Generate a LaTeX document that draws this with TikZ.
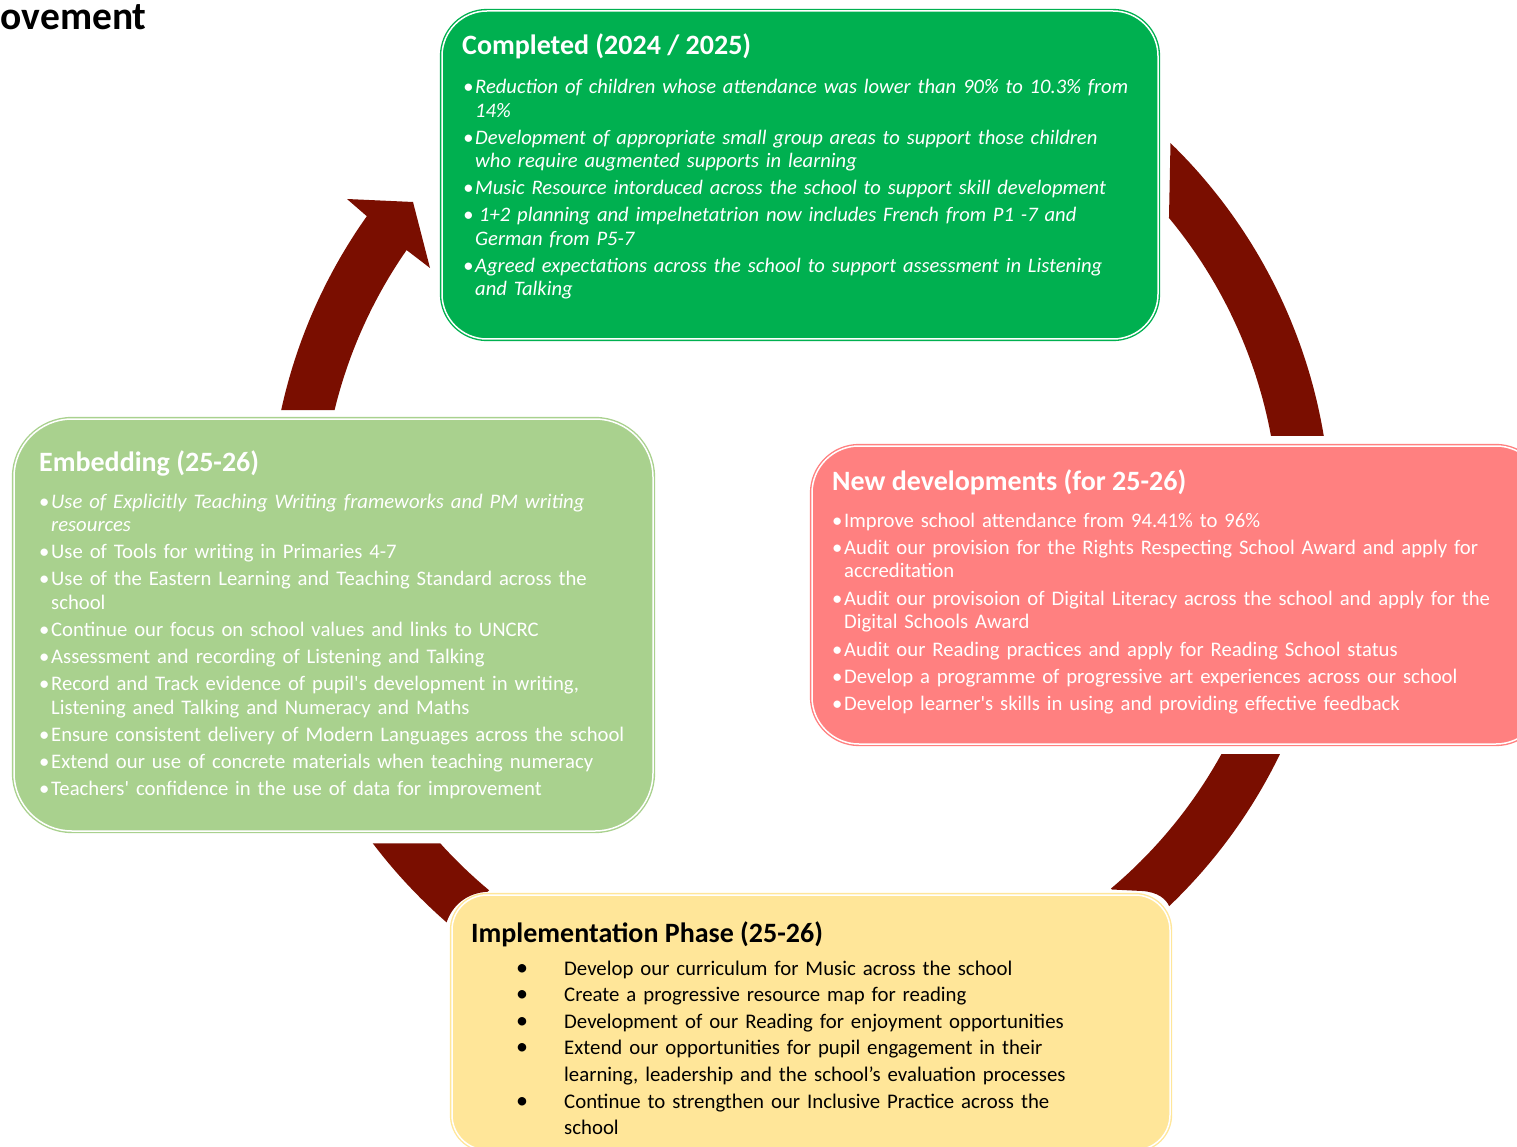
\documentclass[tikz,border=0pt]{standalone}
\usepackage{fontspec}
\setmainfont{Carlito}[Ligatures=TeXOff]
\definecolor{cgreen}{HTML}{00B050}
\definecolor{cpink}{HTML}{FF8080}
\definecolor{clgreen}{HTML}{A9D18E}
\definecolor{cyellow}{HTML}{FFE699}
\definecolor{carrow}{RGB}{122,14,0}
\newcommand\bu{\makebox[12pt][l]{•}}
\newcommand\ind{\hspace*{12pt}}
\newcommand\ybu{\makebox[48pt][l]{\fontsize{24}{24}\selectfont •}}
\newcommand\yind{\hspace*{48pt}}
\begin{document}
\begin{tikzpicture}[x=1pt,y=-1pt,
  box/.style={draw=#1, fill=#1, double=white, double distance=1.5pt, line width=1.4pt, inner sep=0pt},
  ttl/.style={anchor=base west, inner sep=0pt, font=\fontsize{28}{32}\selectfont\bfseries},
  body/.style={anchor=base west, inner sep=0pt, align=left, text width=740pt, font=\fontsize{20.7}{23.7}\selectfont},
  arrowshape/.style={fill=carrow, draw=none}]
\useasboundingbox (0,0) rectangle (1517,1147);

% arrows (arcs of circles round the cycle centre)
% left arrow, with head, into the green box
\fill[arrowshape] plot[domain=192.31:215.37, samples=40] ({799+530*cos(\x)},{523+530*sin(\x)})
  -- (347,199) -- (413,202) -- (430,268)
  -- plot[domain=214.82:193.67, samples=40] ({799+478*cos(\x)},{523+478*sin(\x)}) -- cycle;
% top right arrow
\fill[arrowshape] plot[domain=-45.8:-9.46, samples=40] ({801+530*cos(\x)},{523+530*sin(\x)})
  -- plot[domain=-10.5:-39.66, samples=40] ({801+478*cos(\x)},{523+478*sin(\x)}) -- cycle;
% bottom right arrow
\fill[arrowshape] plot[domain=25.85:46.3, samples=40] ({803+530*cos(\x)},{523+530*sin(\x)})
  .. controls (1166,899) and (1158,892) .. (1142,891) -- (1112,889.5)
  -- plot[domain=49.9:28.9, samples=40] ({803+478*cos(\x)},{523+478*sin(\x)}) -- cycle;
% bottom left arrow
\fill[arrowshape] plot[domain=142.82:131.1, samples=40] ({795+530*cos(\x)},{523+530*sin(\x)})
  .. controls (452,906) and (466,893) .. (487.7,891.7)
  -- plot[domain=129.8:137.93, samples=40] ({795+478*cos(\x)},{523+478*sin(\x)}) -- cycle;

% boxes
\node[box=cgreen, rounded corners=45pt, minimum width=716pt, minimum height=328pt] (gbox) at (800,175) {};
\node[box=cpink, rounded corners=47pt, minimum width=731pt, minimum height=298pt] (rbox) at (1177.5,595) {};
\node[box=clgreen, rounded corners=58pt, minimum width=639pt, minimum height=412pt] (lbox) at (333.5,625) {};
\node[box=cyellow, rounded corners=35pt, minimum width=718pt, minimum height=255pt] (ybox) at (811,1022.5) {};

% heading fragment
\node[anchor=base west, inner sep=0pt, font=\fontsize{39.5}{44}\selectfont\bfseries] (head) at (0.5,30) {ovement};

% green
\node[ttl, text=white] (gt) at (462,55) {Completed (2024 / 2025)};
\node[body, text=white, font=\fontsize{20.6}{23.5}\selectfont\itshape] (gb) at (463,94) {%
\bu Reduction of children whose attendance was lower than 90\% to 10.3\% from\\
\ind 14\%\\[3.5pt]
\bu Development of appropriate small group areas to support those children\\
\ind who require augmented supports in learning\\[3.5pt]
\bu Music Resource intorduced across the school to support skill development\\[3.5pt]
\bu\hspace{4pt}1+2 planning and impelnetatrion now includes French from P1 -7 and\\
\ind German from P5-7\\[3.5pt]
\bu Agreed expectations across the school to support assessment in Listening\\
\ind and Talking};

% pink
\node[ttl, text=white] (rt) at (832,490) {New developments (for 25-26)};
\node[body, text=white] (rb) at (832,527) {%
\bu Improve school attendance from 94.41\% to 96\%\\[3.5pt]
\bu Audit our provision for the Rights Respecting School Award and apply for\\
\ind accreditation\\[3.5pt]
\bu Audit our provisoion of Digital Literacy across the school and apply for the\\
\ind Digital Schools Award\\[3.5pt]
\bu Audit our Reading practices and apply for Reading School status\\[3.5pt]
\bu Develop a programme of progressive art experiences across our school\\[3.5pt]
\bu Develop learner's skills in using and providing effective feedback};

% light green
\node[ttl, text=white] (lt) at (39,471) {Embedding (25-26)};
\node[body, text=white, font=\fontsize{20.7}{23.6}\selectfont] (lb) at (39,508) {%
\bu\textit{Use of Explicitly Teaching Writing frameworks and PM writing}\\
\ind\textit{resources}\\[3.5pt]
\bu Use of Tools for writing in Primaries 4-7\\[3.5pt]
\bu Use of the Eastern Learning and Teaching Standard across the\\
\ind school\\[3.5pt]
\bu Continue our focus on school values and links to UNCRC\\[3.5pt]
\bu Assessment and recording of Listening and Talking\\[3.5pt]
\bu Record and Track evidence of pupil's development in writing,\\
\ind Listening aned Talking and Numeracy and Maths\\[3.5pt]
\bu Ensure consistent delivery of Modern Languages across the school\\[3.5pt]
\bu Extend our use of concrete materials when teaching numeracy\\[3.5pt]
\bu Teachers' confidence in the use of data for improvement};

% yellow
\node[ttl, text=black] (yt) at (471,942) {Implementation Phase (25-26)};
\node[body, text=black, font=\fontsize{20.8}{26.6}\selectfont] (yb) at (516,975) {%
\ybu Develop our curriculum for Music across the school\\
\ybu Create a progressive resource map for reading\\
\ybu Development of our Reading for enjoyment opportunities\\
\ybu Extend our opportunities for pupil engagement in their\\
\yind learning, leadership and the school’s evaluation processes\\
\ybu Continue to strengthen our Inclusive Practice across the\\
\yind school};
\end{tikzpicture}
\end{document}
